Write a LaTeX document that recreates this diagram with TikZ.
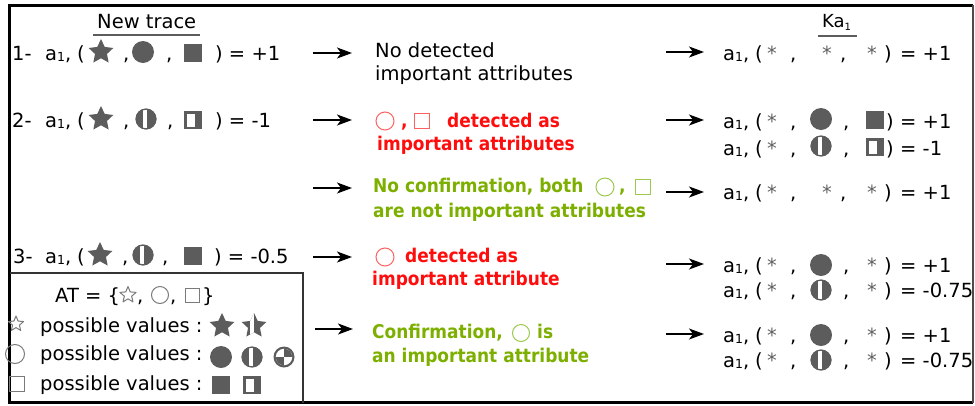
\documentclass[tikz,border=0pt]{standalone}
\usepackage{fontspec}
\setmainfont{DejaVu Sans}
\newfontfamily\condbold{DejaVu Sans}[FakeStretch=0.9]
\usetikzlibrary{arrows.meta}
\definecolor{symgray}{HTML}{5C5C5C}
\definecolor{olgray}{HTML}{7A7A7A}
\definecolor{tred}{HTML}{FF0D0D}
\definecolor{tgreen}{HTML}{7DAF00}
\definecolor{sred}{HTML}{FF6060}
\definecolor{sgreen}{HTML}{9CC850}
\definecolor{astgray}{HTML}{606060}
\newcommand\regsz{\fontsize{19.5}{23}\selectfont}
\newcommand\bsz{\condbold\fontsize{18.9}{23}\selectfont\bfseries}
\newcommand\aone{a\raisebox{-1pt}{\fontsize{12.5}{12.5}\selectfont 1}}
\newcommand\starshape[2]{(90:#1)--(126:#2)--(162:#1)--(198:#2)--(234:#1)--(270:#2)--(306:#1)--(342:#2)--(18:#1)--(54:#2)--cycle}
\newcommand\SymStarF[1]{\fill[symgray,shift={(#1)},yscale=-1] \starshape{13}{6.3};}
\newcommand\SymStarH[1]{\begin{scope}[shift={(#1)},yscale=-1]\clip \starshape{13}{6.3}; \fill[symgray] (-14,-14) rectangle (14,14); \fill[white] (-4.5,-14) rectangle (-0.5,14);\end{scope}}
\newcommand\SymCircF[1]{\fill[symgray] (#1) circle[radius=11];}
\newcommand\SymCircH[1]{\begin{scope}[shift={(#1)}]\begin{scope}\clip (0,0) circle[radius=10.5]; \fill[symgray] (-12,-12) rectangle (12,12); \fill[white] (-2.8,-12) rectangle (1.2,12);\end{scope}\draw[symgray,line width=1.2pt] (0,0) circle[radius=9.9];\end{scope}}
\newcommand\SymCircQ[1]{\begin{scope}[shift={(#1)}]\fill[symgray] (0,0) circle[radius=10.5]; \fill[white] (0,0) circle[radius=8.2];\begin{scope}\clip (0,0) circle[radius=8.2]; \fill[symgray] (0,0) rectangle (9,-9); \fill[symgray] (0,0) rectangle (-9,9);\end{scope}\end{scope}}
\newcommand\SymSqF[1]{\fill[symgray,shift={(#1)}] (-8.8,-8.8) rectangle (8.8,8.8);}
\newcommand\SymSqH[1]{\begin{scope}[shift={(#1)}]\fill[symgray] (-8.8,-8.8) rectangle (8.8,8.8); \fill[white] (-6.5,-6.5) rectangle (1.8,6.5);\end{scope}}
\newcommand\OStar[3]{\draw[#3,line width=1pt,shift={(#1)},yscale=-1,line join=round] \starshape{#2}{0.45*#2};}
\newcommand\OCirc[3]{\draw[#3,line width=1pt] (#1) circle[radius=#2];}
\newcommand\OSq[3]{\draw[#3,line width=1pt,shift={(#1)}] (-#2,-#2) rectangle (#2,#2);}
\begin{document}
\begin{tikzpicture}[x=1pt,y=-1pt,
  t/.style={inner sep=0pt,anchor=base west,font=\regsz},
  bt/.style={inner sep=0pt,anchor=base west,font=\bsz},
  ast/.style={t,text=astgray},
  arr/.style={line width=1.4pt,-{Stealth[length=15pt,width=11pt,inset=4pt]}},
  uline/.style={line width=1.6pt,symgray}]
\useasboundingbox (0,0) rectangle (975,405);
% frame
\draw[line width=3pt] (973,5) -- (9.5,5) -- (9.5,402.5) -- (973,402.5);
\draw[line width=1.2pt,black!70] (973,5) -- (973,402.5);
\draw[line width=1.2pt,black!80] (9.5,273) -- (303,273) -- (303,402.5);
% headers
\node[t] (hnew) at (97,28) {New trace};
\draw[uline] (93,35) -- (200,35);
\node[t,font=\fontsize{18}{18}\selectfont] (hka) at (822,27) {Ka\raisebox{-3pt}{\fontsize{10}{10}\selectfont 1}};
\draw[uline] (818,36) -- (857,36);
% ---------- left column ----------
\node[t] (l1a) at (12,60) {1-};
\node[t] (l1b) at (45,60) {\aone,};
\node[t] (l1c) at (77,60) {(};
\SymStarF{101,52}
\node[t] (l1d) at (123,60) {,};
\SymCircF{143,52}
\node[t] (l1e) at (166,60) {,};
\SymSqF{193,53}
\node[t] (l1f) at (215,60) {) = +1};
\node[t] (l2a) at (12,127) {2-};
\node[t] (l2b) at (45,127) {\aone,};
\node[t] (l2c) at (77,127) {(};
\SymStarF{101,119}
\node[t] (l2d) at (123,127) {,};
\SymCircH{146,119}
\node[t] (l2e) at (167,127) {,};
\SymSqH{193,120}
\node[t] (l2f) at (215,127) {) = -1};
\node[t] (l3a) at (13,263) {3-};
\node[t] (l3b) at (45,263) {\aone,};
\node[t] (l3c) at (77,263) {(};
\SymStarF{100,255}
\node[t] (l3d) at (122,263) {,};
\SymCircH{143,255}
\node[t] (l3e) at (162,263) {,};
\SymSqF{193,256}
\node[t] (l3f) at (214,263) {) = -0.5};
% legend
\node[t] (ga) at (55,302) {AT = \{};
\OStar{128,295}{8.5}{olgray}
\node[t] (gb) at (137,302) {,};
\OCirc{160,295}{8.5}{olgray}
\node[t] (gc) at (170,302) {,};
\OSq{192,295}{7}{olgray}
\node[t] (gd) at (202,302) {\}};
\OStar{16,324}{8}{olgray}
\node[t] (g2) at (40,332) {possible values :};
\SymStarF{222,326}
\SymStarH{254,326}
\OCirc{15,354}{9.5}{olgray}
\node[t] (g3) at (40,360) {possible values :};
\SymCircF{221,357}
\SymCircH{252,357}
\SymCircQ{284,357}
\OSq{17,384}{7.5}{olgray}
\node[t] (g4) at (40,390) {possible values :};
\SymSqF{221,385}
\SymSqH{252,385}
% ---------- middle column ----------
\coordinate (m1s) at (313,53);  \coordinate (m1e) at (352,53);
\coordinate (m2s) at (313,120); \coordinate (m2e) at (352,120);
\coordinate (m3s) at (313,188); \coordinate (m3e) at (352,188);
\coordinate (m4s) at (313,257); \coordinate (m4e) at (352,257);
\coordinate (m5s) at (315,329); \coordinate (m5e) at (353,329);
\draw[arr] (m1s) -- (m1e);
\draw[arr] (m2s) -- (m2e);
\draw[arr] (m3s) -- (m3e);
\draw[arr] (m4s) -- (m4e);
\draw[arr] (m5s) -- (m5e);
\node[t] (c1a) at (375,57) {No detected};
\node[t] (c1b) at (375,80) {important attributes};
\OCirc{385,121}{9}{sred}
\node[bt,text=tred] (c2a) at (401,127) {,};
\OSq{422,121}{7.5}{sred}
\node[bt,text=tred] (c2b) at (447,127) {detected as};
\node[bt,text=tred] (c2c) at (377,150) {important attributes};
\node[bt,text=tgreen] (c3a) at (373,192) {No confirmation, both};
\OCirc{605,187}{9}{sgreen}
\node[bt,text=tgreen] (c3b) at (619,192) {,};
\OSq{643,187}{7.5}{sgreen}
\node[bt,text=tgreen] (c3c) at (373,217) {are not important attributes};
\OCirc{385,257}{9}{sred}
\node[bt,text=tred] (c4a) at (405,262) {detected as};
\node[bt,text=tred] (c4b) at (372,285) {important attribute};
\node[bt,text=tgreen] (c5a) at (372,338) {Confirmation,};
\OCirc{521,333}{8.5}{sgreen}
\node[bt,text=tgreen] (c5b) at (537,338) {is};
\node[bt,text=tgreen] (c5c) at (372,362) {an important attribute};
% ---------- right column ----------
\coordinate (r1s) at (666,52);  \coordinate (r1e) at (704,52);
\coordinate (r2s) at (666,120); \coordinate (r2e) at (704,120);
\coordinate (r3s) at (666,192); \coordinate (r3e) at (704,192);
\coordinate (r4s) at (666,264); \coordinate (r4e) at (704,264);
\coordinate (r5s) at (666,334); \coordinate (r5e) at (704,334);
\draw[arr] (r1s) -- (r1e);
\draw[arr] (r2s) -- (r2e);
\draw[arr] (r3s) -- (r3e);
\draw[arr] (r4s) -- (r4e);
\draw[arr] (r5s) -- (r5e);
% R1
\node[t] (k1a) at (723,60) {\aone,};
\node[t] (k1b) at (755,60) {(};
\node[ast] (k1c) at (767,60) {*};
\node[t] (k1d) at (790,60) {,};
\node[ast] (k1e) at (822,60) {*};
\node[t] (k1f) at (840,60) {,};
\node[ast] (k1g) at (867,60) {*};
\node[t] (k1h) at (884,60) {)};
\node[t] (k1i) at (900,60) {= +1};
% R2
\node[t] (k2a) at (723,128) {\aone,};
\node[t] (k2b) at (755,128) {(};
\node[ast] (k2c) at (767,128) {*};
\node[t] (k2d) at (790,128) {,};
\SymCircF{821,119}
\node[t] (k2f) at (843,128) {,};
\SymSqF{875,120}
\node[t] (k2h) at (886,128) {)};
\node[t] (k2i) at (900,128) {= +1};
\node[t] (k3a) at (723,155) {\aone,};
\node[t] (k3b) at (755,155) {(};
\node[ast] (k3c) at (767,155) {*};
\node[t] (k3d) at (790,155) {,};
\SymCircH{821,146}
\node[t] (k3f) at (843,155) {,};
\SymSqH{875,147}
\node[t] (k3h) at (886,155) {)};
\node[t] (k3i) at (900,155) {= -1};
% R2b
\node[t] (k4a) at (723,199) {\aone,};
\node[t] (k4b) at (755,199) {(};
\node[ast] (k4c) at (767,199) {*};
\node[t] (k4d) at (790,199) {,};
\node[ast] (k4e) at (822,199) {*};
\node[t] (k4f) at (840,199) {,};
\node[ast] (k4g) at (867,199) {*};
\node[t] (k4h) at (884,199) {)};
\node[t] (k4i) at (900,199) {= +1};
% R3
\node[t] (k5a) at (723,272) {\aone,};
\node[t] (k5b) at (755,272) {(};
\node[ast] (k5c) at (767,272) {*};
\node[t] (k5d) at (790,272) {,};
\SymCircF{821,265}
\node[t] (k5f) at (843,272) {,};
\node[ast] (k5g) at (867,272) {*};
\node[t] (k5h) at (884,272) {)};
\node[t] (k5i) at (900,272) {= +1};
\node[t] (k6a) at (723,297) {\aone,};
\node[t] (k6b) at (755,297) {(};
\node[ast] (k6c) at (767,297) {*};
\node[t] (k6d) at (790,297) {,};
\SymCircH{821,290}
\node[t] (k6f) at (843,297) {,};
\node[ast] (k6g) at (867,297) {*};
\node[t] (k6h) at (884,297) {)};
\node[t] (k6i) at (900,297) {= -0.75};
% R4
\node[t] (k7a) at (723,342) {\aone,};
\node[t] (k7b) at (755,342) {(};
\node[ast] (k7c) at (767,342) {*};
\node[t] (k7d) at (790,342) {,};
\SymCircF{821,335}
\node[t] (k7f) at (843,342) {,};
\node[ast] (k7g) at (867,342) {*};
\node[t] (k7h) at (884,342) {)};
\node[t] (k7i) at (900,342) {= +1};
\node[t] (k8a) at (723,367) {\aone,};
\node[t] (k8b) at (755,367) {(};
\node[ast] (k8c) at (767,367) {*};
\node[t] (k8d) at (790,367) {,};
\SymCircH{821,360}
\node[t] (k8f) at (843,367) {,};
\node[ast] (k8g) at (867,367) {*};
\node[t] (k8h) at (884,367) {)};
\node[t] (k8i) at (900,367) {= -0.75};
\end{tikzpicture}
\end{document}
